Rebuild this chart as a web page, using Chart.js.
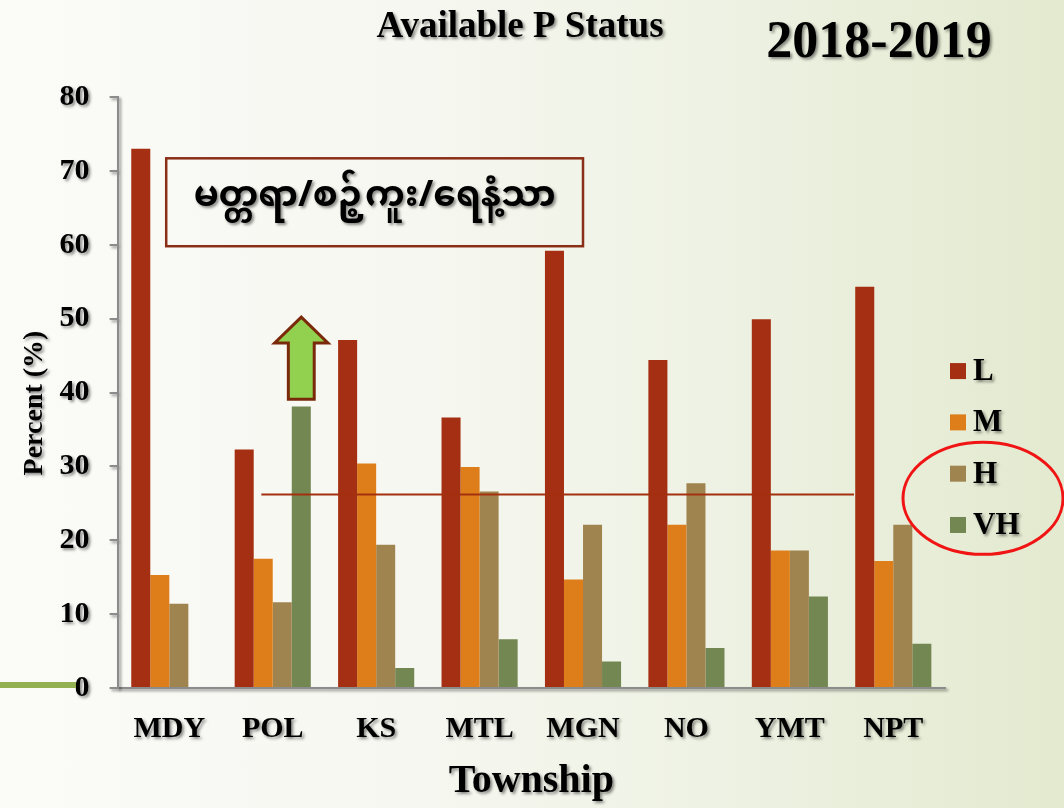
<!DOCTYPE html>
<html>
<head>
<meta charset="utf-8">
<title>Available P Status</title>
<script src="https://cdn.jsdelivr.net/npm/chart.js@4.4.1/dist/chart.umd.min.js"></script>
<style>
  html, body { margin: 0; padding: 0; }
  body {
    width: 1064px; height: 808px; overflow: hidden;
    background: linear-gradient(to right, #fbfbf8 0%, #f6f7f0 40%, #edf1e2 70%, #e3eacf 100%);
  }
  #wrap { position: relative; width: 1064px; height: 808px; }
</style>
</head>
<body>
<div id="wrap"><canvas id="pChart"></canvas></div>
<script>
// values (percent of samples per class)
const townships = ["MDY", "POL", "KS", "MTL", "MGN", "NO", "YMT", "NPT"];
const lowVals = [73.0, 32.3, 47.1, 36.6, 59.2, 44.4, 49.9, 54.3];
const mediumVals = [15.3, 17.5, 30.4, 29.9, 14.7, 22.1, 18.6, 17.2];
const highVals = [11.4, 11.6, 19.4, 26.6, 22.1, 27.7, 18.6, 22.1];
const veryHighVals = [0, 38.1, 2.7, 6.6, 3.6, 5.4, 12.4, 6.0];
const seriesNames = ["L", "M", "H", "VH"];
const yTicks = [0, 10, 20, 30, 40, 50, 60, 70, 80];
const refLevel = 26.2;
const boxText = "မတ္တရာ/စဉ့်ကူး/ရေနံ့သာ";

const serif = '"Liberation Serif", "Times New Roman", serif';
const myFont = '"Noto Sans Myanmar", "Padauk", "Myanmar Text", sans-serif';
const colors = ["#a52f12", "#dd7e1a", "#a08450", "#728752"];

function shadowOn(ctx) {
  ctx.shadowColor = "rgba(0,0,0,0.45)";
  ctx.shadowBlur = 3;
  ctx.shadowOffsetX = 2;
  ctx.shadowOffsetY = 2;
}
function shadowOff(ctx) {
  ctx.shadowColor = "transparent";
  ctx.shadowBlur = 0;
  ctx.shadowOffsetX = 0;
  ctx.shadowOffsetY = 0;
}

const slidePlugin = {
  id: "slide",
  beforeDraw(chart) { shadowOn(chart.ctx); },
  beforeDatasetsDraw(chart) { shadowOff(chart.ctx); },
  afterDraw(chart) {
    const { ctx, chartArea, scales: { x, y } } = chart;
    ctx.save();
    shadowOff(ctx);

    // olive strip at the left edge
    ctx.fillStyle = "#93b153";
    ctx.fillRect(0, y.getPixelForValue(0) - 6, 76, 6);

    // horizontal reference line
    ctx.strokeStyle = "#a3300f";
    ctx.lineWidth = 2;
    ctx.beginPath();
    ctx.moveTo(x.getPixelForValue(0.89), y.getPixelForValue(refLevel));
    ctx.lineTo(x.getPixelForValue(6.62), y.getPixelForValue(refLevel));
    ctx.stroke();

    // townships box
    const bx0 = x.getPixelForValue(-0.03), bx1 = x.getPixelForValue(4);
    const by0 = y.getPixelForValue(71.7), by1 = y.getPixelForValue(59.8);
    ctx.strokeStyle = "#8b2e17";
    ctx.lineWidth = 2.5;
    ctx.strokeRect(bx0, by0, bx1 - bx0, by1 - by0);
    ctx.font = "bold 34px " + myFont;
    const w = ctx.measureText(boxText).width;
    const fs = Math.min(44, 34 * 362 / w);
    ctx.font = "bold " + fs + "px " + myFont;
    ctx.fillStyle = "#000";
    ctx.textAlign = "center";
    ctx.textBaseline = "middle";
    shadowOn(ctx);
    ctx.fillText(boxText, (bx0 + bx1) / 2, (by0 + by1) / 2);
    shadowOff(ctx);

    // green up arrow above POL VH bar
    const bar = chart.getDatasetMeta(3).data[1];
    const cx = bar.x, bw = bar.width;
    const tip = y.getPixelForValue(50.2), head = y.getPixelForValue(46.7), foot = y.getPixelForValue(39.1);
    const hw = bw * 1.4, sw = bw * 0.68;
    ctx.beginPath();
    ctx.moveTo(cx, tip);
    ctx.lineTo(cx + hw, head);
    ctx.lineTo(cx + sw, head);
    ctx.lineTo(cx + sw, foot);
    ctx.lineTo(cx - sw, foot);
    ctx.lineTo(cx - sw, head);
    ctx.lineTo(cx - hw, head);
    ctx.closePath();
    ctx.fillStyle = "#92d050";
    ctx.fill();
    ctx.strokeStyle = "#7a2a0a";
    ctx.lineWidth = 3;
    ctx.lineJoin = "miter";
    ctx.stroke();

    // legend
    const lx = chartArea.right + 5;
    const ly0 = y.getPixelForValue(42.9);
    ctx.font = "bold 31px " + serif;
    ctx.textAlign = "left";
    ctx.textBaseline = "middle";
    chart.data.datasets.forEach((ds, i) => {
      const cy = ly0 + i * 51.3;
      ctx.fillStyle = ds.backgroundColor;
      ctx.fillRect(lx, cy - 8, 16, 16);
      shadowOn(ctx);
      ctx.fillStyle = "#000";
      ctx.fillText(ds.label, lx + 23, cy + 1);
      shadowOff(ctx);
    });

    // red ellipse round H and VH
    ctx.strokeStyle = "#f01414";
    ctx.lineWidth = 3;
    ctx.beginPath();
    ctx.ellipse(lx + 33, ly0 + 2.5 * 51.3 - 1, 80, 56, 0, 0, Math.PI * 2);
    ctx.stroke();

    // titles
    shadowOn(ctx);
    ctx.fillStyle = "#000";
    ctx.textAlign = "center";
    ctx.textBaseline = "alphabetic";
    ctx.font = "bold 37px " + serif;
    ctx.fillText("Available P Status", 520, 37);
    ctx.font = "bold 52px " + serif;
    ctx.fillText("2018-2019", 879, 57);
    ctx.restore();
  }
};

const tickFont = { family: serif, size: 30, weight: "bold" };

new Chart(document.getElementById("pChart"), {
  type: "bar",
  data: {
    labels: townships,
    datasets: [lowVals, mediumVals, highVals, veryHighVals].map((vals, i) => ({
      label: seriesNames[i],
      data: vals,
      backgroundColor: colors[i],
      borderWidth: 0,
      categoryPercentage: 0.736,
      barPercentage: 1.0
    }))
  },
  options: {
    responsive: true,
    maintainAspectRatio: false,
    animation: false,
    layout: { padding: { top: 97, right: 119, bottom: 6, left: 5 } },
    plugins: {
      legend: { display: false },
      tooltip: { enabled: false }
    },
    scales: {
      x: {
        grid: { display: false },
        border: { color: "#8c8c8c", width: 2 },
        ticks: { color: "#000", font: tickFont, padding: 15, maxRotation: 0 },
        title: {
          display: true,
          text: "Township",
          color: "#000",
          font: { family: serif, size: 40, weight: "bold", lineHeight: 1.0 },
          padding: { top: 0, bottom: 0 }
        }
      },
      y: {
        min: 0,
        max: 80,
        afterBuildTicks: (s) => { s.ticks = yTicks.map((v) => ({ value: v })); },
        grid: { drawOnChartArea: false, drawTicks: true, tickLength: 8, color: "#8c8c8c", lineWidth: 2 },
        border: { color: "#8c8c8c", width: 2 },
        ticks: { color: "#000", font: tickFont, padding: 20 },
        title: {
          display: true,
          // trailing spaces nudge the rotated title down, as on the slide
          text: "Percent (%)   ",
          color: "#000",
          font: { family: serif, size: 28, weight: "bold" },
          padding: { top: 13, bottom: -12 }
        }
      }
    }
  },
  plugins: [slidePlugin]
});
</script>
</body>
</html>
